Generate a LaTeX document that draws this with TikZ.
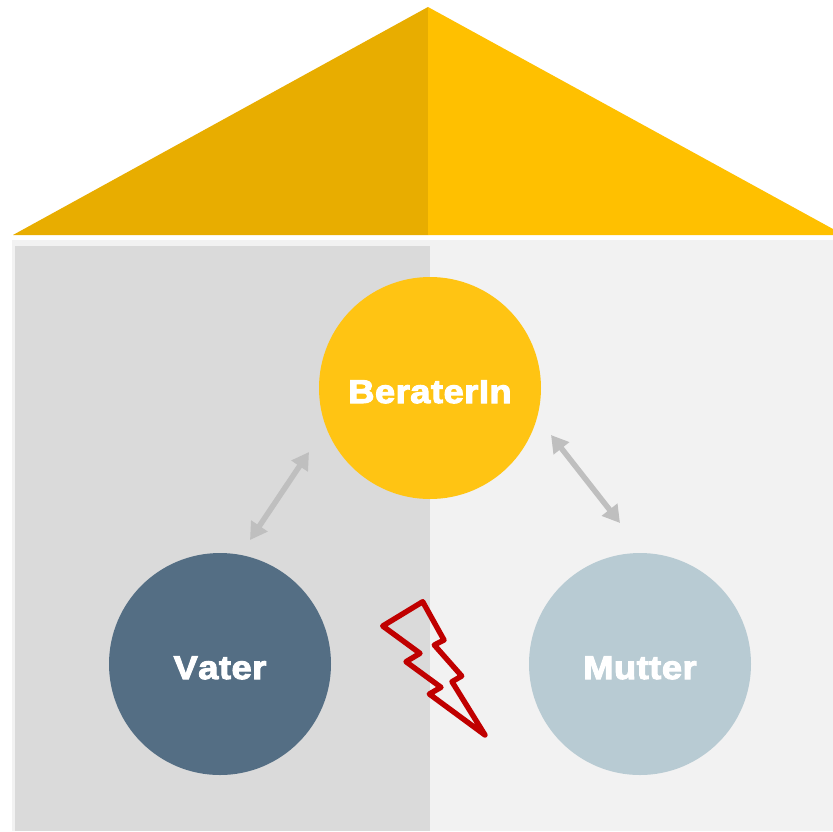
\documentclass[tikz,border=0pt]{standalone}
\usepackage{fontspec}
\setmainfont{Liberation Sans}
\newfontfamily\heavyfont[FakeBold=3.2,FakeStretch=1.1,LetterSpace=1.5,Kerning=Off]{Liberation Sans Bold}
\usetikzlibrary{arrows.meta}
\definecolor{roofdark}{HTML}{E8AD00}
\definecolor{roofbright}{HTML}{FFC000}
\definecolor{wallouter}{HTML}{F2F2F2}
\definecolor{wallleft}{HTML}{DADADA}
\definecolor{beratercol}{HTML}{FFC413}
\definecolor{vatercol}{HTML}{546E84}
\definecolor{muttercol}{HTML}{B8CBD3}
\definecolor{arrowcol}{HTML}{BFBFBF}
\definecolor{boltcol}{HTML}{C00000}
\newcommand{\personlabel}[1]{\raisebox{-15pt}[0pt][0pt]{#1}}
\tikzset{
  person/.style={circle,draw=none,minimum size=222pt,inner sep=0pt,text=white,
    font=\fontsize{33}{33}\heavyfont},
  link/.style={draw=arrowcol,line width=5.5pt,{Triangle[length=17pt,width=19pt]}-{Triangle[length=17pt,width=19pt]}},
  bolt/.style={draw=boltcol,line width=5.4pt,line join=round,line cap=round,fill=none}
}
\begin{document}
\begin{tikzpicture}[x=1pt,y=-1pt]
\useasboundingbox (0,0) rectangle (833,831);
\fill[white] (0,0) rectangle (833,831);
% roof
\fill[roofdark] (428,7) -- (13,235) -- (428,235) -- cycle;
\fill[roofbright] (428,7) -- (833,229) -- (833,235) -- (428,235) -- cycle;
% walls
\fill[wallouter] (12,240) rectangle (833,831);
\fill[wallleft] (15,246) rectangle (430,831);
% persons
\node[person,fill=beratercol] (berater) at (430,388) {\personlabel{BeraterIn}};
\node[person,fill=vatercol] (vater) at (220,664) {\personlabel{Vater}};
\node[person,fill=muttercol] (mutter) at (640,664) {\personlabel{Mutter}};
% connectors
\coordinate (vl) at (250,540);
\coordinate (vb) at (309,452);
\coordinate (mb) at (551,435);
\coordinate (ml) at (620,523);
\draw[link] (vl) -- (vb);
\draw[link] (mb) -- (ml);
% lightning
\draw[bolt] (422.7,601.7) -- (444,640) -- (434.3,645) -- (461.7,676) -- (452,681.7)
  -- (485,735) -- (429.3,694) -- (441,687.3) -- (406,661.7) -- (420,653.3) -- (382.7,626) -- cycle;
\end{tikzpicture}
\end{document}
